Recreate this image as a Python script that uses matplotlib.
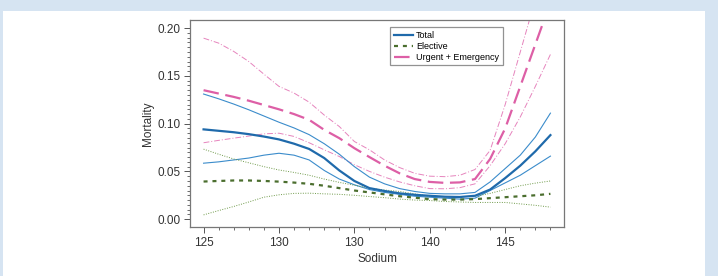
import matplotlib
matplotlib.use("Agg")
import matplotlib.pyplot as plt
from matplotlib.patches import Rectangle
from matplotlib.ticker import FixedLocator

plt.rcParams['font.family'] = ['Liberation Sans', 'DejaVu Sans']

sodium = list(range(125, 149))
xtick_vals = [125, 130, 135, 140, 145]
xtick_labels = ["125", "130", "130", "140", "145"]
ytick_vals = [0.00, 0.05, 0.10, 0.15, 0.20]

total = [0.094, 0.0925, 0.091, 0.089, 0.0865, 0.0835, 0.079, 0.0735, 0.064, 0.051,
         0.040, 0.0325, 0.0295, 0.027, 0.0255, 0.0245, 0.0235, 0.0232, 0.0245, 0.031,
         0.043, 0.056, 0.071, 0.088]
total_hi = [0.131, 0.126, 0.1205, 0.1145, 0.108, 0.1015, 0.0955, 0.0885, 0.079, 0.068,
            0.055, 0.044, 0.037, 0.032, 0.029, 0.027, 0.0265, 0.0265, 0.028, 0.039,
            0.053, 0.067, 0.086, 0.111]
total_lo = [0.0586, 0.060, 0.062, 0.064, 0.067, 0.069, 0.067, 0.062, 0.051, 0.042,
            0.036, 0.031, 0.028, 0.026, 0.024, 0.023, 0.022, 0.021, 0.022, 0.030,
            0.038, 0.046, 0.056, 0.066]

elective = [0.0394, 0.040, 0.0405, 0.0405, 0.040, 0.0393, 0.0383, 0.037, 0.035, 0.0325,
            0.030, 0.028, 0.026, 0.024, 0.0225, 0.021, 0.0205, 0.0205, 0.021, 0.022,
            0.023, 0.024, 0.025, 0.0265]
elective_hi = [0.0733, 0.068, 0.063, 0.059, 0.055, 0.0515, 0.0489, 0.046, 0.042, 0.0385,
               0.0355, 0.0325, 0.0305, 0.029, 0.0265, 0.024, 0.0235, 0.0235, 0.024, 0.027,
               0.031, 0.035, 0.0377, 0.040]
elective_lo = [0.0045, 0.009, 0.0133, 0.018, 0.023, 0.0255, 0.027, 0.0272, 0.0265, 0.026,
               0.025, 0.0237, 0.0225, 0.021, 0.020, 0.0195, 0.0185, 0.018, 0.0175, 0.0175,
               0.0175, 0.016, 0.0145, 0.0126]

urgent = [0.135, 0.1315, 0.128, 0.124, 0.1195, 0.115, 0.110, 0.104, 0.0935, 0.0848,
          0.0743, 0.065, 0.056, 0.048, 0.042, 0.039, 0.038, 0.0385, 0.042, 0.063,
          0.095, 0.139, 0.183, 0.227]
urgent_hi = [0.1895, 0.1843, 0.1756, 0.165, 0.1518, 0.139, 0.132, 0.1225, 0.109, 0.097,
             0.0813, 0.0726, 0.062, 0.054, 0.048, 0.045, 0.0445, 0.046, 0.052, 0.072,
             0.120, 0.175, 0.230, 0.285]
urgent_lo = [0.080, 0.0825, 0.0848, 0.087, 0.0893, 0.090, 0.0866, 0.080, 0.0726, 0.0656,
             0.057, 0.050, 0.044, 0.039, 0.035, 0.032, 0.0318, 0.033, 0.037, 0.056,
             0.079, 0.107, 0.139, 0.1725]

BLUE = "#1f6aab"
BLUE_L = "#3b8ccb"
GREEN = "#4b6e2e"
GREEN_L = "#6f9a4a"
PINK = "#dd5fa6"
PINK_L = "#e684bd"

fig = plt.figure(figsize=(7.18, 2.76), dpi=100, facecolor="#d6e4f2")
fig.patches.append(Rectangle((3/718, 0), 702/718, 265/276, transform=fig.transFigure,
                             facecolor="white", edgecolor="none", zorder=-10))
ax = fig.add_axes([190/718, 1 - 227/276, (564-190)/718, (227-20)/276])
ax.set_facecolor("white")

# CIs
ax.plot(sodium, urgent_hi, color=PINK_L, lw=0.7, dashes=(6, 2, 1, 2))
ax.plot(sodium, urgent_lo, color=PINK_L, lw=0.7, dashes=(6, 2, 1, 2))
ax.plot(sodium, total_hi, color=BLUE_L, lw=0.8)
ax.plot(sodium, total_lo, color=BLUE_L, lw=0.8)
ax.plot(sodium, elective_hi, color=GREEN_L, lw=0.7, dashes=(1, 1.5))
ax.plot(sodium, elective_lo, color=GREEN_L, lw=0.7, dashes=(1, 1.5))
# main curves
ax.plot(sodium, urgent, color=PINK, lw=1.6, dashes=(7, 3), label="Urgent + Emergency")
ax.plot(sodium, elective, color=GREEN, lw=1.6, dashes=(1.8, 2.2), label="Elective")
ax.plot(sodium, total, color=BLUE, lw=1.6, label="Total")

ax.set_xlim(124.1, 148.9)
ax.set_ylim(-0.0082, 0.2085)
ax.set_xticks(xtick_vals)
ax.set_xticklabels(xtick_labels)
ax.xaxis.set_minor_locator(FixedLocator(sodium))
ax.set_yticks(ytick_vals)
ax.set_yticklabels([f"{v:.2f}" for v in ytick_vals])
ax.yaxis.set_minor_locator(FixedLocator([i * 0.005 for i in range(41)]))
ax.tick_params(which="major", direction="out", length=4, width=0.7, color="#555555",
               labelsize=8.5, labelcolor="#333333", pad=3)
ax.tick_params(which="minor", direction="out", length=2.5, width=0.6, color="#555555")
for s in ax.spines.values():
    s.set_color("#777777")
    s.set_linewidth(0.9)

ax.set_xlabel("Sodium", fontsize=8.5, color="#333333", labelpad=3)
ax.set_ylabel("Mortality", fontsize=8.5, color="#333333", labelpad=2)

handles, labels = ax.get_legend_handles_labels()
order = [2, 1, 0]
leg = ax.legend([handles[i] for i in order], [labels[i] for i in order],
                loc="upper left", bbox_to_anchor=((390-190)/374, 1 - (27.5-20)/207),
                fontsize=6.5, frameon=True, fancybox=False, handlelength=2.2,
                handletextpad=0.3, borderpad=0.4, labelspacing=0.2, borderaxespad=0)
leg.get_frame().set_edgecolor("#777777")
leg.get_frame().set_linewidth(0.9)

fig.savefig("out.png", dpi=100, facecolor=fig.get_facecolor())
